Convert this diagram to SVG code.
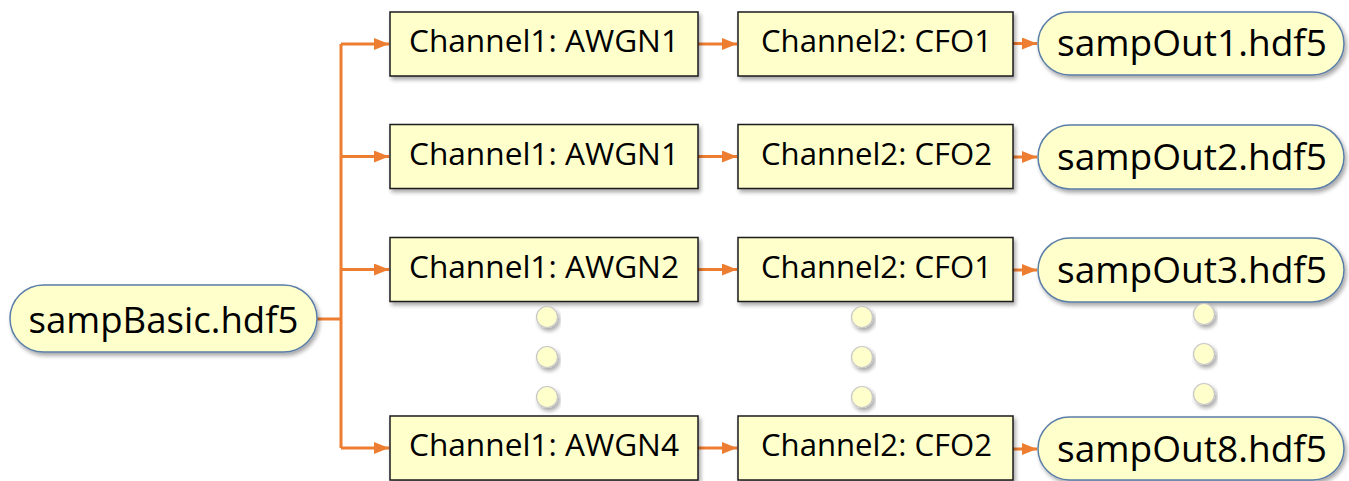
<svg xmlns="http://www.w3.org/2000/svg" width="1349" height="481" viewBox="0 0 1349 481">
<style>
.box{fill:#FFFFCC;stroke:#1a1a1a;stroke-width:1.5;filter:url(#sh)}
.pill{fill:#FFFFCC;stroke:#5A7EA8;stroke-width:1.5;filter:url(#sh)}
.dot{fill:#FFFFCC;stroke:#C8C8C8;stroke-width:1.2;filter:url(#sh)}
.t{font-family:"Open Sans","Liberation Sans",sans-serif;font-size:31.5px;fill:#000;text-anchor:middle}
.tp{font-family:"Open Sans","Liberation Sans",sans-serif;font-size:36px;fill:#000;text-anchor:middle}
.c{fill:none;stroke:#ED7D31;stroke-width:3}
</style>
<defs>
<filter id="sh" x="-10%" y="-20%" width="125%" height="150%">
<feGaussianBlur in="SourceAlpha" stdDeviation="2"/>
<feOffset dx="1.5" dy="2.5" result="b"/>
<feComponentTransfer><feFuncA type="linear" slope="0.35"/></feComponentTransfer>
<feMerge><feMergeNode/><feMergeNode in="SourceGraphic"/></feMerge>
</filter>
<marker id="ah" markerWidth="5" markerHeight="4" refX="5" refY="2" orient="auto" markerUnits="strokeWidth">
<path d="M0,0 L5,2 L0,4 Z" fill="#ED7D31"/>
</marker>
</defs>
<g id="connectors">
<path class="c" d="M317,319 H341"/>
<path class="c" d="M341,44 V448"/>
<path class="c" d="M341,44 H389" marker-end="url(#ah)"/>
<path class="c" d="M341,156.5 H389" marker-end="url(#ah)"/>
<path class="c" d="M341,269.5 H389" marker-end="url(#ah)"/>
<path class="c" d="M341,448 H389" marker-end="url(#ah)"/>
<path class="c" d="M698,44 H737" marker-end="url(#ah)"/>
<path class="c" d="M698,156.5 H737" marker-end="url(#ah)"/>
<path class="c" d="M698,269.5 H737" marker-end="url(#ah)"/>
<path class="c" d="M698,448 H737" marker-end="url(#ah)"/>
<path class="c" d="M1013,43.5 H1037" marker-end="url(#ah)"/>
<path class="c" d="M1013,157 H1037" marker-end="url(#ah)"/>
<path class="c" d="M1013,270 H1037" marker-end="url(#ah)"/>
<path class="c" d="M1013,449 H1037" marker-end="url(#ah)"/>
</g>
<g id="sampBasic">
<rect class="pill" x="10" y="285" width="307" height="67" rx="33.5"/>
<text class="tp" x="163.5" y="333" textLength="270" lengthAdjust="spacingAndGlyphs">sampBasic.hdf5</text>
</g>
<g id="ch1_row1">
<rect class="box" x="390" y="12" width="308" height="64"/>
<text class="t" x="544" y="52" textLength="270" lengthAdjust="spacingAndGlyphs">Channel1: AWGN1</text>
</g>
<g id="ch1_row2">
<rect class="box" x="390" y="124.5" width="308" height="64"/>
<text class="t" x="544" y="164.5" textLength="270" lengthAdjust="spacingAndGlyphs">Channel1: AWGN1</text>
</g>
<g id="ch1_row3">
<rect class="box" x="390" y="237.5" width="308" height="64"/>
<text class="t" x="544" y="277.5" textLength="270" lengthAdjust="spacingAndGlyphs">Channel1: AWGN2</text>
</g>
<g id="ch1_row4">
<rect class="box" x="390" y="416" width="308" height="64"/>
<text class="t" x="544" y="456" textLength="270" lengthAdjust="spacingAndGlyphs">Channel1: AWGN4</text>
</g>
<g id="ch2_row1">
<rect class="box" x="738" y="12" width="275" height="64"/>
<text class="t" x="876.5" y="52" textLength="231" lengthAdjust="spacingAndGlyphs">Channel2: CFO1</text>
</g>
<g id="ch2_row2">
<rect class="box" x="738" y="124.5" width="275" height="64"/>
<text class="t" x="876.5" y="164.5" textLength="231" lengthAdjust="spacingAndGlyphs">Channel2: CFO2</text>
</g>
<g id="ch2_row3">
<rect class="box" x="738" y="237.5" width="275" height="64"/>
<text class="t" x="876.5" y="277.5" textLength="231" lengthAdjust="spacingAndGlyphs">Channel2: CFO1</text>
</g>
<g id="ch2_row4">
<rect class="box" x="738" y="416" width="275" height="64"/>
<text class="t" x="876.5" y="456" textLength="231" lengthAdjust="spacingAndGlyphs">Channel2: CFO2</text>
</g>
<g id="out1">
<rect class="pill" x="1038" y="12" width="306" height="63" rx="31.5"/>
<text class="tp" x="1192" y="56" textLength="270" lengthAdjust="spacingAndGlyphs">sampOut1.hdf5</text>
</g>
<g id="out2">
<rect class="pill" x="1038" y="125" width="306" height="64" rx="32"/>
<text class="tp" x="1192" y="169.5" textLength="270" lengthAdjust="spacingAndGlyphs">sampOut2.hdf5</text>
</g>
<g id="out3">
<rect class="pill" x="1038" y="238" width="306" height="64" rx="32"/>
<text class="tp" x="1192" y="282.5" textLength="270" lengthAdjust="spacingAndGlyphs">sampOut3.hdf5</text>
</g>
<g id="out8">
<rect class="pill" x="1038" y="417" width="306" height="63" rx="31.5"/>
<text class="tp" x="1192" y="461.5" textLength="270" lengthAdjust="spacingAndGlyphs">sampOut8.hdf5</text>
</g>
<g id="dots1">
<circle class="dot" cx="547" cy="317" r="10.5"/>
<circle class="dot" cx="547" cy="357" r="10.5"/>
<circle class="dot" cx="547" cy="397" r="10.5"/>
</g>
<g id="dots2">
<circle class="dot" cx="862" cy="317" r="10.5"/>
<circle class="dot" cx="862" cy="357" r="10.5"/>
<circle class="dot" cx="862" cy="397" r="10.5"/>
</g>
<g id="dots3">
<circle class="dot" cx="1204" cy="314" r="10.5"/>
<circle class="dot" cx="1204" cy="354" r="10.5"/>
<circle class="dot" cx="1204" cy="394" r="10.5"/>
</g>
</svg>
